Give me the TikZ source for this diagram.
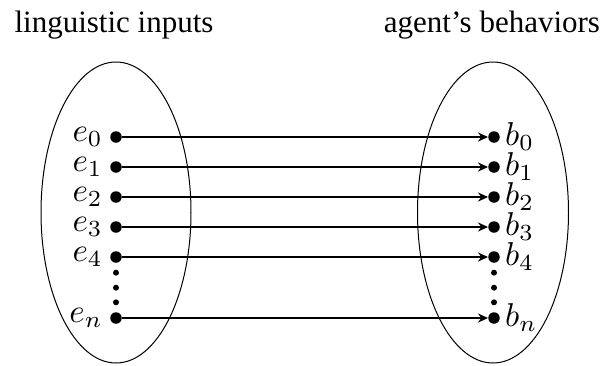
\documentclass[tikz,border=0pt]{standalone}
\usepackage[no-math]{fontspec}
\usepackage{graphicx}
\newfontfamily\titlefont{Liberation Serif}
\usetikzlibrary{arrows.meta,shapes.geometric}
\newcommand{\biglab}[1]{\scalebox{3.3}{\fontsize{10}{12}\selectfont$#1$}}
\tikzset{
  setell/.style={draw, line width=1pt},
  bigdot/.style={circle, fill=black, inner sep=0pt, minimum size=11.5pt},
  smalldot/.style={circle, fill=black, inner sep=0pt, minimum size=6pt},
  maparrow/.style={line width=2.2pt, -{Stealth[length=10pt,width=9pt]}},
  title/.style={font=\titlefont\fontsize{31}{36}\selectfont, anchor=base},
  elab/.style={anchor=east, inner sep=0pt},
  blab/.style={anchor=west, inner sep=0pt},
}
\begin{document}
\begin{tikzpicture}[x=1pt,y=-1pt]
\useasboundingbox (0,0) rectangle (606,365);
\node[title] (tl) at (114,32) {linguistic inputs};
\node[title] (tr) at (492,32) {agent’s behaviors};
\node[setell, ellipse, minimum width=150pt, minimum height=301pt, inner sep=0pt] (L) at (116,212.5) {};
\node[setell, ellipse, minimum width=151pt, minimum height=301pt, inner sep=0pt] (R) at (493,212.5) {};
\foreach \i/\y in {0/137,1/167,2/197,3/227,4/257,n/318}{
  \node[bigdot] (e\i) at (116,\y) {};
  \node[bigdot] (b\i) at (494,\y) {};
  \node[elab] (le\i) at (103,\y) {\biglab{e_{\i}}};
  \node[blab] (lb\i) at (505,\y) {\biglab{b_{\i}}};
  \draw[maparrow] (e\i) -- (b\i);
}
\foreach \k/\y in {1/272.7,2/287.7,3/302.3}{
  \node[smalldot] (ve\k) at (116,\y) {};
  \node[smalldot] (vb\k) at (494,\y) {};
}
\end{tikzpicture}
\end{document}
